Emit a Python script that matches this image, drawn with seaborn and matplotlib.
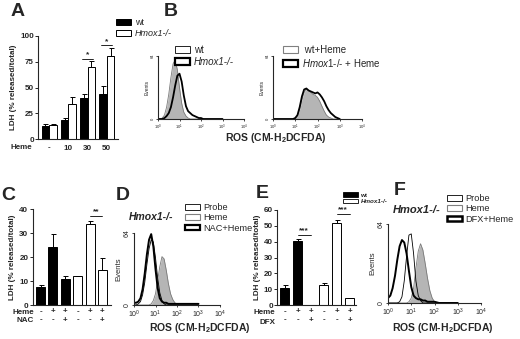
import pandas as pd
import matplotlib
matplotlib.use('Agg')
import matplotlib.pyplot as plt
import seaborn as sns
from matplotlib.patches import Patch
from matplotlib.ticker import NullLocator

# ---- data ----
# A: LDH release vs heme dose
heme_doses = ['-', '10', '30', '50']
a_wt = [13, 18, 40, 44]
a_wt_err = [2, 2.5, 4, 7]
a_ko = [13.5, 33.5, 69.5, 81]
a_ko_err = [1.2, 7, 6, 7]

# C: heme +/- NAC
c_heme = ['-', '+', '+', '-', '+', '+']
c_nac = ['-', '-', '+', '-', '-', '+']
c_geno = ['wt', 'wt', 'wt', 'Hmox1-/-', 'Hmox1-/-', 'Hmox1-/-']
c_ldh = [7.5, 24.2, 10.7, 12.0, 33.8, 14.4]
c_err = [0.7, 5.3, 1.2, 0.0, 1.3, 5.2]

# E: heme +/- DFX
e_heme = ['-', '+', '+', '-', '+', '+']
e_dfx = ['-', '-', '+', '-', '-', '+']
e_geno = ['wt', 'wt', 'wt', 'Hmox1-/-', 'Hmox1-/-', 'Hmox1-/-']
e_ldh = [11.0, 40.5, 0.3, 12.8, 51.5, 4.3]
e_err = [1.8, 1.5, 0.0, 1.0, 2.5, 0.3]

# flow histograms: fluorescence channel and event counts
channels = [1.0, 1.26, 1.58, 2.0, 2.51, 3.16, 3.98, 5.01, 6.31, 7.94,
            10, 12.6, 15.8, 20.0, 25.1, 31.6, 39.8, 50.1, 63.1, 79.4,
            100, 126, 158, 200, 251, 316, 398, 501, 631, 794, 1000]
b_wt = [0, 0, 1, 4, 12, 25, 42, 56, 60, 50, 32, 16, 7, 3, 1, 0,
        0, 0, 0, 0, 0, 0, 0, 0, 0, 0, 0, 0, 0, 0, 0]
b_ko = [0, 0, 0, 1, 3, 6, 12, 22, 34, 44, 46, 38, 24, 13, 8, 6,
        4, 3, 2, 1, 1, 0, 0, 0, 0, 0, 0, 0, 0, 0, 0]
b_wt_heme = [0, 0, 0, 0, 0, 0, 0, 0, 0, 0, 1, 3, 10, 20, 27, 30,
             29, 27, 25, 24, 22, 18, 13, 8, 4, 2, 1, 0, 0, 0, 0]
b_ko_heme = [0, 0, 0, 0, 0, 0, 0, 0, 0, 0, 1, 4, 12, 23, 30, 31,
             29, 28, 27, 26, 27, 25, 22, 18, 13, 9, 6, 4, 2, 1, 0]
d_probe = [0, 0, 1, 3, 9, 20, 36, 50, 58, 56, 42, 24, 11, 4, 1, 0,
           0, 0, 0, 0, 0, 0, 0, 0, 0, 0, 0, 0, 0, 0, 0]
d_heme = [0, 0, 0, 0, 0, 0, 0, 0, 1, 4, 10, 22, 34, 43, 41, 31,
          19, 10, 5, 2, 1, 0, 0, 0, 0, 0, 0, 0, 0, 0, 0]
d_nac = [2, 2, 3, 6, 14, 28, 45, 58, 63, 52, 32, 15, 6, 3, 2, 2,
         1, 1, 1, 1, 1, 1, 1, 1, 1, 1, 1, 1, 1, 1, 1]
f_probe = [0, 0, 0, 0, 0, 1, 5, 18, 38, 55, 56, 40, 18, 6, 2, 0,
           0, 0, 0, 0, 0, 0, 0, 0, 0, 0, 0, 0, 0, 0, 0]
f_heme = [0, 0, 0, 0, 0, 0, 0, 0, 0, 1, 4, 12, 28, 42, 48, 43,
          32, 20, 10, 4, 1, 0, 0, 0, 0, 0, 0, 0, 0, 0, 0]
f_dfx = [4, 6, 12, 22, 35, 46, 51, 49, 40, 26, 13, 6, 4, 3, 3, 2,
         2, 1, 1, 1, 1, 0.5, 0, 0, 0, 0, 0, 0, 0, 0, 0]

# ---- style ----
sns.set_style('ticks')
plt.rcParams['font.family'] = ['Liberation Sans', 'DejaVu Sans']
plt.rcParams['mathtext.fontset'] = 'custom'
plt.rcParams['mathtext.rm'] = 'Liberation Sans'
plt.rcParams['mathtext.it'] = 'Liberation Sans:italic'
plt.rcParams['mathtext.bf'] = 'Liberation Sans:bold'
plt.rcParams['axes.linewidth'] = 0.8

W, H = 520, 339
fig = plt.figure(figsize=(W / 100, H / 100), dpi=100)


def add_ax(l, t, r, b):
    return fig.add_axes([l / W, 1 - b / H, (r - l) / W, (b - t) / H])


def ftext(x, y, s, **kw):
    return fig.text(x / W, 1 - y / H, s, **kw)


def box_legend(labels, styles, x, y, fs, hl, hh, ls, **kw):
    handles = [Patch(facecolor=fc, edgecolor=ec, linewidth=lw) for fc, ec, lw in styles]
    return fig.legend(handles, labels, loc='upper left', bbox_to_anchor=(x / W, 1 - y / H),
                      frameon=False, fontsize=fs, handlelength=hl, handleheight=hh,
                      labelspacing=ls, handletextpad=0.4, borderpad=0, borderaxespad=0, **kw)


def style_bar_ax(ax, yticks, fs=5.8):
    ax.set_ylim(0, yticks[-1])
    ax.set_yticks(yticks)
    ax.tick_params(axis='y', length=2, width=0.7, pad=1, labelsize=fs)
    ax.tick_params(axis='x', length=0, labelsize=fs)
    for lbl in ax.get_yticklabels() + ax.get_xticklabels():
        lbl.set_fontweight('bold')
    ax.set_xlabel('')
    ax.set_ylabel('LDH (% released/total)', fontsize=5.8, fontweight='bold', labelpad=2)
    sns.despine(ax=ax)


def add_errors(ax, vals, errs):
    bars = sorted(ax.patches, key=lambda p: p.get_x())
    xs = [p.get_x() + p.get_width() / 2 for p in bars]
    ax.errorbar(xs, vals, yerr=[[0] * len(vals), errs], fmt='none', ecolor='black',
                elinewidth=0.7, capsize=1.8, capthick=0.7)
    return xs


def sig(ax, x0, x1, y, stars, fs=6):
    ax.plot([x0, x1], [y, y], color='black', lw=0.6, clip_on=False)
    ax.text((x0 + x1) / 2, y + 0.5, stars, ha='center', va='bottom', fontsize=fs,
            fontweight='bold')


def style_hist(ax, fs, ylab_fs):
    ax.set_xscale('log')
    ax.set_xlim(1, 1e4)
    ax.set_ylim(0, 64)
    ax.set_xticks([1, 10, 100, 1000, 10000])
    ax.xaxis.set_minor_locator(NullLocator())
    ax.set_yticks([0, 64])
    ax.set_yticklabels(['0', '64'], rotation=90, va='center')
    ax.tick_params(axis='both', length=1.5, width=0.6, pad=1, labelsize=fs)
    ax.set_ylabel('Events', fontsize=ylab_fs, labelpad=1)
    ax.set_xlabel('')
    sns.despine(ax=ax)


def draw_hist(ax, fill, lines):
    ax.fill_between(channels, fill, color='#b5b5b5', lw=0)
    sns.lineplot(x=channels, y=fill, ax=ax, color='#7a7a7a', linewidth=0.6)
    for counts, lw in lines:
        sns.lineplot(x=channels, y=counts, ax=ax, color='black', linewidth=lw)


# ---- A ----
axA = add_ax(38, 36, 118, 139)
dfA = pd.DataFrame({'heme': heme_doses * 2,
                    'genotype': ['wt'] * 4 + ['Hmox1-/-'] * 4,
                    'ldh': a_wt + a_ko})
sns.barplot(data=dfA, x='heme', y='ldh', hue='genotype', order=heme_doses,
            hue_order=['wt', 'Hmox1-/-'], palette=['black', 'white'], edgecolor='black',
            linewidth=0.7, errorbar=None, width=0.8, legend=False, ax=axA)
barsA = list(axA.patches)
xsA = [p.get_x() + p.get_width() / 2 for p in barsA]
axA.errorbar(xsA, a_wt + a_ko, yerr=[[0] * 8, a_wt_err + a_ko_err], fmt='none',
             ecolor='black', elinewidth=0.7, capsize=1.8, capthick=0.7)
style_bar_ax(axA, [0, 25, 50, 75, 100])
axA.tick_params(axis='x', pad=4)
sig(axA, xsA[2] - 0.1, xsA[6] + 0.1, 78, '*')
sig(axA, xsA[3] - 0.1, xsA[7] + 0.1, 91, '*')
ftext(32, 148, 'Heme', ha='right', va='center', fontsize=5.8, fontweight='bold')
legA = box_legend(['wt', 'Hmox1-/-'], [('black', 'black', 0.7), ('white', 'black', 0.7)],
                  116, 18, 6.5, 1.7, 0.6, 0.25)
legA.get_texts()[1].set_fontstyle('italic')

# ---- B ----
axB1 = add_ax(158, 56, 244, 119)
draw_hist(axB1, b_wt, [(b_ko, 1.3)])
style_hist(axB1, 3, 3.5)
axB2 = add_ax(273, 56, 362, 119)
draw_hist(axB2, b_wt_heme, [(b_ko_heme, 1.3)])
style_hist(axB2, 3, 3.5)
box_legend(['wt', 'Hmox1-/-'], [('white', 'black', 0.6), ('white', 'black', 1.6)],
           175, 45, 7, 1.55, 0.6, 0.2).get_texts()[1].set_fontstyle('italic')
box_legend([' wt+Heme', r'$\mathit{Hmox1}$-/- + Heme'],
           [('white', '#808080', 0.8), ('white', 'black', 1.6)],
           283, 45, 7, 1.55, 0.6, 0.2)
ftext(276, 138, r'ROS (CM-H$_{\mathbf{2}}$DCFDA)', ha='center', va='center',
      fontsize=7.5, fontweight='bold')

# ---- C ----
axC = add_ax(32.5, 209, 110.5, 305)
sns.barplot(x=list(range(6)), y=c_ldh, hue=c_geno, hue_order=['wt', 'Hmox1-/-'],
            palette=['black', 'white'], dodge=False, edgecolor='black', linewidth=0.7,
            errorbar=None, width=0.72, legend=False, ax=axC)
xsC = add_errors(axC, c_ldh, c_err)
axC.set_xticks(range(6))
axC.set_xticklabels([f'{h}\n{n}' for h, n in zip(c_heme, c_nac)], linespacing=1.35)
style_bar_ax(axC, [0, 10, 20, 30, 40])
axC.tick_params(axis='x', pad=2)
sig(axC, xsC[4], xsC[5], 37, '**')
ftext(34, 312, 'Heme', ha='right', va='center', fontsize=5.8, fontweight='bold')
ftext(34, 321, 'NAC', ha='right', va='center', fontsize=5.8, fontweight='bold')

# ---- D ----
axD = add_ax(134, 233, 220, 305)
draw_hist(axD, d_heme, [(d_probe, 0.6), (d_nac, 1.4)])
style_hist(axD, 5, 5.5)
ftext(151, 217, 'Hmox1-/-', ha='center', va='center', fontsize=7.5,
      fontweight='bold', fontstyle='italic')
box_legend(['Probe', 'Heme', 'NAC+Heme'],
           [('white', 'black', 0.6), ('white', '#808080', 0.8), ('white', 'black', 1.6)],
           185, 203, 6.6, 1.6, 0.55, 0.15)
ftext(200, 328, r'ROS (CM-H$_{\mathbf{2}}$DCFDA)', ha='center', va='center',
      fontsize=7.5, fontweight='bold')

# ---- E ----
axE = add_ax(277, 210, 356, 305)
sns.barplot(x=list(range(6)), y=e_ldh, hue=e_geno, hue_order=['wt', 'Hmox1-/-'],
            palette=['black', 'white'], dodge=False, edgecolor='black', linewidth=0.7,
            errorbar=None, width=0.7, legend=False, ax=axE)
axE.set_xlim(-0.6, 5.5)
xsE = add_errors(axE, e_ldh, e_err)
axE.set_xticks(range(6))
axE.set_xticklabels([f'{h}\n{d}' for h, d in zip(e_heme, e_dfx)], linespacing=1.35)
style_bar_ax(axE, [0, 10, 20, 30, 40, 50, 60])
axE.tick_params(axis='x', pad=2)
sig(axE, xsE[1], xsE[2], 44, '***')
sig(axE, xsE[4], xsE[5], 57.5, '***')
ftext(275, 313, 'Heme', ha='right', va='center', fontsize=5.8, fontweight='bold')
ftext(275, 323, 'DFX', ha='right', va='center', fontsize=5.8, fontweight='bold')
legE = box_legend(['wt', 'Hmox1-/-'], [('black', 'black', 0.6), ('white', 'black', 0.6)],
                  343, 192, 4.5, 2.4, 0.8, 0.15)
for t in legE.get_texts():
    t.set_fontweight('bold')
legE.get_texts()[1].set_fontstyle('italic')

# ---- F ----
axF = add_ax(388, 224, 481, 303)
draw_hist(axF, f_heme, [(f_probe, 0.6), (f_dfx, 1.4)])
style_hist(axF, 5, 5.5)
ftext(417, 210, 'Hmox1-/-', ha='center', va='center', fontsize=8,
      fontweight='bold', fontstyle='italic')
box_legend(['Probe', 'Heme', 'DFX+Heme'],
           [('white', 'black', 0.6), ('white', '#808080', 0.8), ('white', 'black', 1.8)],
           447, 194, 6.6, 1.6, 0.55, 0.15)
ftext(443, 328, r'ROS (CM-H$_{\mathbf{2}}$DCFDA)', ha='center', va='center',
      fontsize=7.5, fontweight='bold')

# ---- panel letters ----
for letter, x, y in [('A', 18, 11), ('B', 171, 12), ('C', 8, 195),
                     ('D', 123, 195), ('E', 262, 193), ('F', 400, 191)]:
    ftext(x, y, letter, ha='center', va='center', fontsize=14, fontweight='bold')

fig.savefig('out.png', dpi=100)
